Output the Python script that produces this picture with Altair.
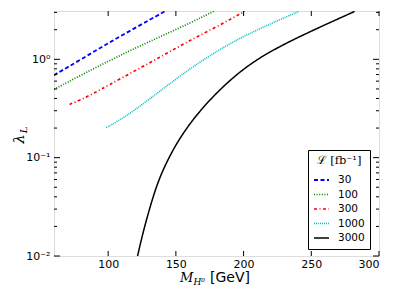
import altair as alt
import pandas as pd

# ---- data ----
series = ["30", "100", "300", "1000", "3000"]
m_30 = [60, 80, 100, 120, 142]
l_30 = [0.69, 1.0, 1.46, 2.09, 3.08]
m_100 = [60, 80, 100, 120, 140, 160, 178]
l_100 = [0.494, 0.692, 0.955, 1.30, 1.74, 2.32, 3.08]
m_300 = [71.5, 80, 90, 100, 120, 140, 160, 180, 201]
l_300 = [0.348, 0.389, 0.457, 0.543, 0.767, 1.084, 1.549, 2.138, 3.08]
m_1000 = [98.6, 106.5, 118.8, 131, 145, 163, 188, 212, 241]
l_1000 = [0.2023, 0.2317, 0.2992, 0.3981, 0.5585, 0.8531, 1.416, 2.061, 3.076]
m_3000 = [121.7, 126, 133.6, 140, 148.3, 154.5, 163, 175, 188, 200, 212, 227, 242, 262, 282]
l_3000 = [0.01, 0.01811, 0.04266, 0.07362, 0.1233, 0.1698, 0.2489, 0.3873, 0.5808,
          0.7980, 1.0375, 1.358, 1.718, 2.307, 3.069]

x_ticks = [100, 150, 200, 250, 300]
y_major = [0.01, 0.1, 1]
y_minor = [0.02, 0.03, 0.04, 0.05, 0.06, 0.07, 0.08, 0.09,
           0.2, 0.3, 0.4, 0.5, 0.6, 0.7, 0.8, 0.9, 2, 3]

colors = ["#0000ff", "#008000", "#ff0000", "#00bfbf", "#000000"]
dashes = [[4, 2.5], [1, 1.6], [3, 2.5, 1, 2.5], [1, 1], [1, 0]]
widths = [1.8, 1.5, 1.8, 1.5, 1.8]

rows = []
for name, ms, ls in zip(series, [m_30, m_100, m_300, m_1000, m_3000],
                        [l_30, l_100, l_300, l_1000, l_3000]):
    for i, (m, l) in enumerate(zip(ms, ls)):
        rows.append({"series": name, "M": m, "lam": l, "order": i})
df = pd.DataFrame(rows)

W, H = 325, 245
xscale = alt.Scale(domain=[60, 300], nice=False, zero=False)
yscale = alt.Scale(type="log", domain=[0.01, 3.1], nice=False)

leg = alt.Legend(title="ℒ [fb⁻¹]", orient="none", legendX=254, legendY=139,
                 fillColor="white", strokeColor="black", padding=5,
                 symbolType="stroke", symbolSize=225, titleFont="DejaVu Serif",
                 titleFontSize=11.5, titleFontWeight="normal", titleAlign="center",
                 titleAnchor="middle", titlePadding=5, labelFont="DejaVu Sans",
                 labelFontSize=10.5, labelColor="black", titleColor="black",
                 rowPadding=0.5, labelOffset=8, cornerRadius=0)

lines = alt.Chart(df).mark_line(interpolate="basis", clip=True).encode(
    x=alt.X("M:Q", scale=xscale,
            axis=alt.Axis(values=x_ticks, ticks=False, domain=False, grid=False,
                          title=None, labelFontSize=11, labelFont="DejaVu Sans",
                          labelPadding=2, labelColor="black")),
    y=alt.Y("lam:Q", scale=yscale,
            axis=alt.Axis(values=y_major, ticks=False, domain=False, grid=False,
                          title=None, labelFontSize=11, labelFont="DejaVu Sans",
                          labelPadding=4, labelColor="black",
                          labelExpr="datum.value >= 1 ? '10⁰' : (datum.value >= 0.1 ? '10⁻¹' : '10⁻²')")),
    color=alt.Color("series:N", scale=alt.Scale(domain=series, range=colors), legend=leg),
    strokeDash=alt.StrokeDash("series:N", scale=alt.Scale(domain=series, range=dashes), legend=leg),
    strokeWidth=alt.StrokeWidth("series:N", scale=alt.Scale(domain=series, range=widths), legend=leg),
    order="order:Q",
    detail="series:N",
)

ymaj = pd.DataFrame({"v": y_major})
ymin = pd.DataFrame({"v": y_minor})
xt = pd.DataFrame({"v": x_ticks})

def yticks(d, length):
    left = alt.Chart(d).mark_rule(color="black", strokeWidth=1).encode(
        y=alt.Y("v:Q", scale=yscale), x=alt.value(0), x2=alt.value(length))
    right = alt.Chart(d).mark_rule(color="black", strokeWidth=1).encode(
        y=alt.Y("v:Q", scale=yscale), x=alt.value(W - length), x2=alt.value(W))
    return [left, right]

xb = alt.Chart(xt).mark_rule(color="black", strokeWidth=1).encode(
    x=alt.X("v:Q", scale=xscale), y=alt.value(H - 5), y2=alt.value(H))
xtop = alt.Chart(xt).mark_rule(color="black", strokeWidth=1).encode(
    x=alt.X("v:Q", scale=xscale), y=alt.value(0), y2=alt.value(5))

title_df = pd.DataFrame({"t": ["x"]})
tM = alt.Chart(title_df).mark_text(text="M", font="DejaVu Serif", fontStyle="italic",
                                   fontSize=13, align="left", baseline="alphabetic").encode(
    x=alt.value(126), y=alt.value(271))
tH = alt.Chart(title_df).mark_text(text="H⁰", font="DejaVu Serif", fontStyle="italic",
                                   fontSize=9, align="left", baseline="alphabetic").encode(
    x=alt.value(139.5), y=alt.value(274))
tG = alt.Chart(title_df).mark_text(text="[GeV]", font="DejaVu Sans",
                                   fontSize=14, align="left", baseline="alphabetic").encode(
    x=alt.value(156), y=alt.value(271))
tL = alt.Chart(title_df).mark_text(text="λ", font="DejaVu Serif", fontStyle="italic",
                                   fontSize=15, angle=270, align="center", baseline="alphabetic").encode(
    x=alt.value(-30), y=alt.value(128))
tLs = alt.Chart(title_df).mark_text(text="L", font="DejaVu Serif", fontStyle="italic",
                                    fontSize=10, angle=270, align="center", baseline="alphabetic").encode(
    x=alt.value(-27), y=alt.value(119))

chart = alt.layer(
    lines, *yticks(ymaj, 6), *yticks(ymin, 3), xb, xtop, tM, tH, tG, tL, tLs
).properties(
    width=W, height=H,
    autosize=alt.AutoSizeParams(type="none"),
    padding={"left": 46, "top": 3, "right": 13, "bottom": 36},
).configure_view(stroke="black", strokeWidth=1.2).configure(background="white")

chart.save("out.html", embed_options={"renderer": "svg", "actions": False})
